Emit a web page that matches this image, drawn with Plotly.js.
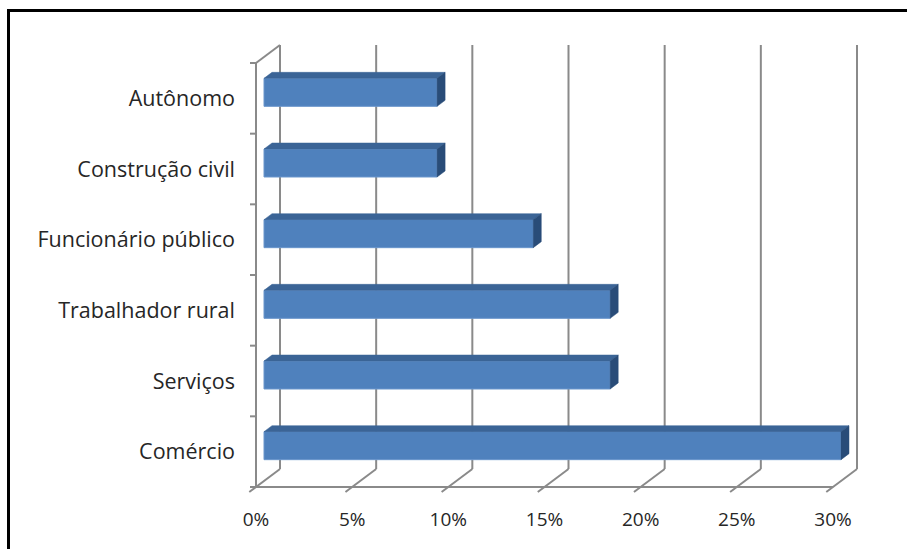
<!DOCTYPE html>
<html>
<head>
<meta charset="utf-8">
<script src="https://cdn.plot.ly/plotly-3.0.1.min.js"></script>
<style>
  html, body { margin: 0; padding: 0; background: #fff; overflow: hidden; }
  #chart { position: absolute; left: 0; top: 0; width: 907px; height: 549px; }
  #frame { position: absolute; left: 7px; top: 9px; width: 1200px; height: 1200px;
           border: 3px solid #000; pointer-events: none; box-sizing: border-box; }
</style>
</head>
<body>
<div id="chart"></div>
<div id="frame"></div>
<script>
// Occupation categories, listed top to bottom as they appear on the axis
const categories = ['Autônomo', 'Construção civil', 'Funcionário público',
                    'Trabalhador rural', 'Serviços', 'Comércio'];
// Share of respondents in each category (%)
const shares = [9, 9, 14, 18, 18, 30];
// Value axis ticks
const tickValues = [0, 5, 10, 15, 20, 25, 30];
const tickLabels = ['0%', '5%', '10%', '15%', '20%', '25%', '30%'];

// ---- geometry of the pseudo-3D box (pixels) ----
const W = 907, H = 549;
const ML = 244, MR = 44, MT = 43, MB = 54;
const pxPerPct = (833 - 256) / 30;           // horizontal scale
const pxPerCat = (487 - 63) / 6;             // vertical scale (one category)
const plotW = W - ML - MR, plotH = H - MT - MB;
const xMin = -(256 - ML) / pxPerPct;
const xMax = xMin + plotW / pxPerPct;
const yMin = -0.5 - (H - MB - 487) / pxPerCat;
const yMax = yMin + plotH / pxPerCat;

const DX = 24 / pxPerPct;    // depth offset, value units
const DY = 18 / pxPerCat;    // depth offset, category units
const F1 = 1 / 3, F2 = 2 / 3; // depth of bar front / back faces
const HALF = 0.198;          // half bar thickness (category units)

const n = categories.length;
const yIndex = categories.map((_, k) => n - 1 - k);
const yTop = n - 0.5, yBot = -0.5;

const gridColor = '#8a8a8a';
const shapes = [];
const line = (x0, y0, x1, y1) => shapes.push({
  type: 'line', xref: 'x', yref: 'y', x0, y0, x1, y1, layer: 'below',
  line: { color: gridColor, width: 2 }
});

// back wall gridlines and floor lines at each value tick
tickValues.forEach(t => {
  line(t + DX, yBot + DY, t + DX, yTop + DY);
  line(t - 0.28 * DX, yBot - 0.28 * DY, t + DX, yBot + DY);
});
// front edge of the floor
line(0, yBot, tickValues[tickValues.length - 1], yBot);
// left wall: front edge and top edge
line(0, yBot, 0, yTop);
line(0, yTop, DX, yTop + DY);
// category boundary ticks on the left wall
for (let b = 0; b <= n; b++) {
  const yb = b - 0.5;
  line(-6 / pxPerPct, yb, 0, yb);
}

// bar faces
const topX = [], topY = [], sideX = [], sideY = [];
shares.forEach((v, k) => {
  const yc = yIndex[k] + F1 * DY;
  const d = (F2 - F1);
  const x0 = F1 * DX, x1 = v + F1 * DX;
  topX.push(x0, x1, x1 + d * DX, x0 + d * DX, x0, null);
  topY.push(yc + HALF, yc + HALF, yc + HALF + d * DY, yc + HALF + d * DY, yc + HALF, null);
  sideX.push(x1, x1, x1 + d * DX, x1 + d * DX, x1, null);
  sideY.push(yc - HALF, yc + HALF, yc + HALF + d * DY, yc - HALF + d * DY, yc - HALF, null);
});

const traces = [
  {
    type: 'bar', orientation: 'h',
    y: yIndex.map(i => i + F1 * DY),
    x: shares,
    base: shares.map(() => F1 * DX),
    width: 2 * HALF,
    marker: { color: '#4f81bd', line: { color: '#6a96cc', width: 1 } },
    hoverinfo: 'skip'
  },
  {
    type: 'scatter', mode: 'lines', x: topX, y: topY, fill: 'toself',
    fillcolor: '#3b6496', line: { color: '#3b6496', width: 0.5 }, hoverinfo: 'skip'
  },
  {
    type: 'scatter', mode: 'lines', x: sideX, y: sideY, fill: 'toself',
    fillcolor: '#294c78', line: { color: '#294c78', width: 0.5 }, hoverinfo: 'skip'
  }
];

const family = '"Open Sans", Lato, sans-serif';
const xFont = { family, size: 19, color: '#262626' };
const yFont = { family, size: 21.5, color: '#262626' };

const layout = {
  width: W, height: H,
  margin: { l: ML, r: MR, t: MT, b: MB },
  paper_bgcolor: '#fff', plot_bgcolor: 'rgba(0,0,0,0)',
  showlegend: false,
  font: xFont,
  xaxis: {
    range: [xMin, xMax], showgrid: false, zeroline: false, showline: false,
    tickmode: 'array', tickvals: tickValues, ticktext: tickLabels,
    ticks: '', ticklabelstandoff: 11, tickfont: xFont, fixedrange: true
  },
  yaxis: {
    range: [yMin, yMax], showgrid: false, zeroline: false, showline: false,
    tickmode: 'array', tickvals: yIndex, ticktext: categories,
    ticks: '', ticklabelstandoff: 8, tickfont: yFont, fixedrange: true
  },
  shapes: shapes
};

Plotly.newPlot('chart', traces, layout, { displayModeBar: false, staticPlot: true });
</script>
</body>
</html>
